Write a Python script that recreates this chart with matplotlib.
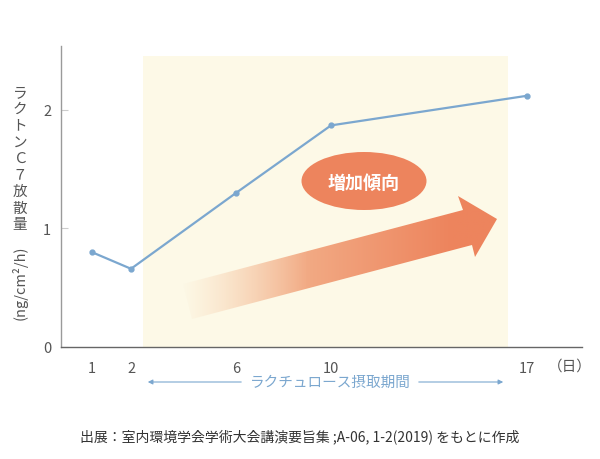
#!/usr/bin/env python3
"""Lactone C7 emission vs. days of lactulose intake."""
import numpy as np
import matplotlib
matplotlib.use("Agg")
import matplotlib.pyplot as plt
from matplotlib.patches import Ellipse, Polygon
from matplotlib.colors import to_rgb

plt.rcParams["font.family"] = ["Noto Sans CJK JP", "DejaVu Sans"]

# data
days = [1, 2, 6, 10, 17]
emission = [0.80, 0.66, 1.30, 1.87, 2.12]
x_ticks = [1, 2, 6, 10, 17]
y_ticks = [0, 1, 2]
ylabel_chars = list("ラクトンＣ７放散量")
ylabel_unit = "(ng/cm²/h)"
period_label = "ラクチュロース摂取期間"
badge_label = "増加傾向"
source_label = "出展：室内環境学会学術大会講演要旨集 ;A-06, 1-2(2019) をもとに作成"

BLUE = "#7ba7cf"
SHADE = "#fdf9e7"
ORANGE = "#ed845d"
GREY = "#555555"

# uneven day spacing as drawn in the original (piecewise linear scale)
KD = np.array([1, 2, 6, 10, 17], float)
KP = np.array([92, 131, 236, 331, 527], float)


def _pw(v, a, b):
    v = np.asarray(v, float)
    s0 = (b[1] - b[0]) / (a[1] - a[0])
    s1 = (b[-1] - b[-2]) / (a[-1] - a[-2])
    return np.where(v < a[0], b[0] + (v - a[0]) * s0,
                    np.where(v > a[-1], b[-1] + (v - a[-1]) * s1, np.interp(v, a, b)))


def fwd(d):
    return _pw(d, KD, KP)


def inv(p):
    return _pw(p, KP, KD)


fig = plt.figure(figsize=(6, 4.6), dpi=100)
ax = fig.add_axes([61 / 600, 112 / 460, 521 / 600, 301 / 460])
ax.set_xscale("function", functions=(fwd, inv))
ax.set_xlim(float(inv(61)), float(inv(582)))
ax.set_ylim(0, 2.54)

ax.axvspan(float(inv(143)), float(inv(508)), ymin=0, ymax=2.456 / 2.54,
           color=SHADE, lw=0, zorder=0)
ax.plot(days, emission, color=BLUE, lw=1.6, marker="o", ms=3.5, zorder=3)

for s in ["top", "right"]:
    ax.spines[s].set_visible(False)
ax.spines["left"].set_color("#9a9a9a")
ax.spines["bottom"].set_color("#666666")
ax.spines["left"].set_linewidth(1.0)
ax.spines["bottom"].set_linewidth(1.0)

ax.set_xticks(x_ticks)
ax.set_xticklabels([str(d) for d in x_ticks])
ax.xaxis.set_minor_locator(matplotlib.ticker.NullLocator())
ax.tick_params(axis="x", length=0, pad=10, labelsize=10.5, labelcolor=GREY)
ax.set_yticks(y_ticks)
ax.tick_params(axis="y", direction="in", length=5, color="#cccccc",
               pad=7, labelsize=10.5, labelcolor=GREY)

# overlay in pixel coordinates for decorations
ov = fig.add_axes([0, 0, 1, 1])
ov.set_xlim(0, 600)
ov.set_ylim(460, 0)
ov.axis("off")
ov.patch.set_alpha(0)

# gradient arrow
arrow_pts = [(183, 285), (463, 211), (458, 197), (497, 220),
             (475, 258), (472, 246), (192, 320)]
poly = Polygon(arrow_pts, closed=True, facecolor="none", edgecolor="none")
ov.add_patch(poly)
x0, x1 = 180, 500
n = 300
t = np.linspace(0, 1, n)
c0, c1 = np.array(to_rgb("#f7d0ab")), np.array(to_rgb(ORANGE))
frac = np.clip(t / 0.85, 0, 1) ** 0.9
rgb = c0[None, :] * (1 - frac[:, None]) + c1[None, :] * frac[:, None]
alpha = np.clip(t / 0.4, 0, 1)
img = np.concatenate([rgb, alpha[:, None]], axis=1)[None, :, :]
im = ov.imshow(img, extent=(x0, x1, 330, 190), aspect="auto", zorder=2,
               interpolation="bilinear")
im.set_clip_path(poly)
ov.set_xlim(0, 600)
ov.set_ylim(460, 0)

# badge
ov.add_patch(Ellipse((364, 182), 125, 58, facecolor=ORANGE, edgecolor="none", zorder=3))
ov.text(364, 183, badge_label, ha="center", va="center", color="white",
        fontsize=13, fontweight="bold", zorder=4)

# y label: upright stacked characters + rotated unit
for i, ch in enumerate(ylabel_chars):
    ov.text(20, 93 + i * 16.5, ch, ha="center", va="center", fontsize=10.5, color=GREY)
ov.text(20, 283, ylabel_unit, ha="center", va="center", rotation=90,
        fontsize=10.5, color=GREY)

# day unit
ov.text(570, 367, "（日）", ha="center", va="center", fontsize=10.5, color=GREY)

# period annotation
ov.text(330, 383, period_label, ha="center", va="center", fontsize=10.5, color=BLUE)
ov.annotate("", xy=(145, 383), xytext=(244, 383),
            arrowprops=dict(arrowstyle="-|>", color=BLUE, lw=0.8, mutation_scale=7))
ov.annotate("", xy=(506, 383), xytext=(416, 383),
            arrowprops=dict(arrowstyle="-|>", color=BLUE, lw=0.8, mutation_scale=7))

# source
ov.text(80, 437, source_label, ha="left", va="center", fontsize=10, color="#333333")

fig.savefig("out.png", dpi=100)
